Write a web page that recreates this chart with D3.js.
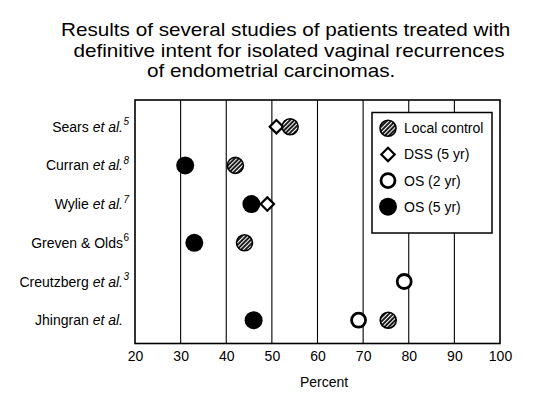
<!DOCTYPE html>
<html><head><meta charset="utf-8">
<script src="https://cdn.jsdelivr.net/npm/d3@7"></script>
<style>
html,body{margin:0;padding:0;background:#fff;}
text{font-family:"Liberation Sans",Arial,Helvetica,sans-serif;fill:#000;}
</style></head>
<body>
<svg id="chart" width="535" height="400"></svg>
<script>
// ---- data ----
const titleLines = ["Results of several studies of patients treated with",
                    "definitive intent for isolated vaginal recurrences",
                    "of endometrial carcinomas."];
const studies = ["Sears", "Curran", "Wylie", "Greven & Olds", "Creutzberg", "Jhingran"];
const studyLabelMain = ["Sears ", "Curran ", "Wylie ", "Greven & Olds", "Creutzberg ", "Jhingran "];
const studyLabelItalic = ["et al.", "et al.", "et al.", "", "et al.", "et al."];
const studyRefs = ["5", "8", "7", "6", "3", ""];
const localControl = [54, 42, null, 44, null, 75.5];
const dss5 = [51, null, 49, null, null, null];
const os2 = [null, null, null, null, 79, 69];
const os5 = [null, 31, 45.5, 33, null, 46];
const xTicks = [20, 30, 40, 50, 60, 70, 80, 90, 100];
const seriesNames = ["Local control", "DSS (5 yr)", "OS (2 yr)", "OS (5 yr)"];
const xTitle = "Percent";

(function(){
const svg = d3.select("#chart");
const defs = svg.append("defs");
const pat = defs.append("pattern").attr("id","hatch").attr("patternUnits","userSpaceOnUse")
  .attr("width",3).attr("height",3).attr("patternTransform","rotate(45)");
pat.append("rect").attr("width",3).attr("height",3).attr("fill","#111");
pat.append("rect").attr("x",0).attr("width",1.1).attr("height",3).attr("fill","#fff");

const pLeft = 135, pRight = 500, pTop = 100, pBottom = 343.5;
const x = d3.scaleLinear().domain([20,100]).range([pLeft,pRight]);
const y = d3.scalePoint().domain(studies).range([126.7, 320.2]);

// title
svg.append("g").selectAll("text").data(titleLines).join("text")
  .attr("transform",(d,i)=>`translate(${[61,73.5,147][i]},${36+i*20.7}) scale(1.15,1)`)
  .attr("font-size", 18).text(d=>d);

// grid
svg.append("g").selectAll("line").data(xTicks.slice(1,-1)).join("line")
  .attr("x1",d=>x(d)).attr("x2",d=>x(d)).attr("y1",pTop).attr("y2",pBottom)
  .attr("stroke","#000").attr("stroke-width",1.1);
svg.append("rect").attr("x",pLeft).attr("y",pTop).attr("width",pRight-pLeft).attr("height",pBottom-pTop)
  .attr("fill","none").attr("stroke","#000").attr("stroke-width",1.6);

// x axis labels
const xa = svg.append("g").attr("transform",`translate(0,${pBottom})`)
  .call(d3.axisBottom(x).tickValues(xTicks).tickSize(0).tickPadding(5).tickFormat(d3.format("d")));
xa.select(".domain").remove();
xa.selectAll("text").attr("font-size",14).attr("font-family",null).attr("dy","0.9em");
svg.append("text").attr("x",324).attr("y",387).attr("text-anchor","middle").attr("font-size",14).text(xTitle);

// y labels
const yl = svg.append("g");
studies.forEach((s,i)=>{
  const t = yl.append("text").attr("x",123).attr("y",y(s)+5).attr("text-anchor","end").attr("font-size",14);
  t.append("tspan").text(studyLabelMain[i]);
  if (studyLabelItalic[i]) t.append("tspan").attr("font-style","italic").text(studyLabelItalic[i]);
  if (studyRefs[i]) yl.append("text").attr("x",123.5).attr("y",y(s)-1.5).attr("font-size",10)
      .attr("font-style", i===3 ? "normal":"italic").text(studyRefs[i]);
});

function drawMarker(g, type, cx, cy){
  if (type===0) g.append("circle").attr("cx",cx).attr("cy",cy).attr("r",8).attr("fill","url(#hatch)").attr("stroke","#000").attr("stroke-width",1.6);
  else if (type===1) g.append("path").attr("d",d3.symbol(d3.symbolSquare, 90)())
      .attr("transform",`translate(${cx},${cy}) rotate(45)`).attr("fill","#fff").attr("stroke","#000").attr("stroke-width",2.2);
  else if (type===2) g.append("circle").attr("cx",cx).attr("cy",cy).attr("r",7).attr("fill","#fff").attr("stroke","#000").attr("stroke-width",2.8);
  else g.append("circle").attr("cx",cx).attr("cy",cy).attr("r",9).attr("fill","#000");
}
const marks = svg.append("g");
const allSeries = [dss5, os2, os5, localControl];
const typeOf = [1,2,3,0];
allSeries.forEach((arr,k)=>{
  arr.forEach((v,i)=>{ if (v!=null) drawMarker(marks, typeOf[k], x(v), y(studies[i])); });
});

// legend
const lg = svg.append("g");
lg.append("rect").attr("x",372).attr("y",112.5).attr("width",120).attr("height",120.5)
  .attr("fill","#fff").attr("stroke","#000").attr("stroke-width",1.5);
const ly = d3.scaleLinear().domain([0,3]).range([128.3,206.7]);
seriesNames.forEach((n,i)=>{
  drawMarker(lg, i, 388, ly(i));
  lg.append("text").attr("x",404).attr("y",ly(i)+5).attr("font-size",14).text(n);
});
})();
</script>
</body></html>
